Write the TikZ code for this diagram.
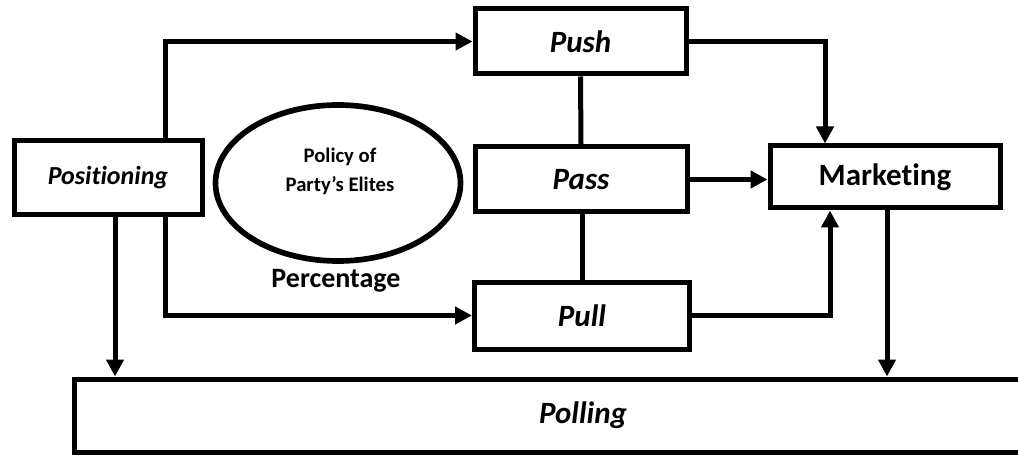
\documentclass[tikz,border=0pt]{standalone}
\usepackage{fontspec}
\setmainfont[Ligatures={NoCommon}]{Carlito}
\usetikzlibrary{arrows.meta,shapes.geometric,calc}
\begin{document}
\begin{tikzpicture}[x=0.75pt,y=-0.75pt,
  box/.style={draw, line width=3.75pt, rectangle, inner sep=0pt,
    font=\bfseries\itshape\fontsize{23.25}{28}\selectfont},
  arr/.style={line width=3.75pt, -{Triangle[length=12.75pt,width=12.75pt]}},
  ln/.style={line width=3.75pt}]
\useasboundingbox (0,0) rectangle (1018,456);
\clip (0,0) rectangle (1018,456);
% boxes
\node[box, minimum width=141pt, minimum height=55.5pt,
  font=\bfseries\itshape\fontsize{19.5}{24}\selectfont] (pos) at (108,178) {Positioning};
\node[box, minimum width=158.25pt, minimum height=48.75pt] (push) at (580.5,41.5) {Push};
\node[box, minimum width=159pt, minimum height=48.75pt] (pass) at (581,179.5) {Pass};
\node[box, minimum width=161.25pt, minimum height=50.25pt] (pull) at (582,315.5) {Pull};
\node[box, minimum width=172.5pt, minimum height=46.5pt,
  font=\bfseries\fontsize{23.25}{28}\selectfont] (mkt) at (885,177) {Marketing};
\node[box, minimum width=763.5pt, minimum height=54.75pt] (poll) at (583,415.5) {Polling};
% ellipse
\node[draw, ellipse, line width=4.25pt, minimum width=183.75pt, minimum height=117pt, inner sep=0pt] (elite) at (338,183) {};
\node[align=center, font=\bfseries\fontsize{15.5}{21.75}\selectfont, inner sep=0pt] (elitetxt) at (340,171.5) {Policy of\\Party’s Elites};
\node[anchor=base, font=\bfseries\fontsize{21}{25}\selectfont, inner sep=0pt] (perc) at (336,287) {Percentage};
% connectors
\draw[arr] ([xshift=42.75pt]pos.north) |- (push.west);
\draw[arr] ([xshift=42.75pt]pos.south) |- (pull.west);
\draw[arr] ([xshift=5.25pt]pos.south) -- ([xshift=5.25pt]pos.south |- poll.north);
\draw[ln] (push.south) -- (pass.north);
\draw[ln] ([xshift=0.75pt]pass.south) -- ([xshift=0.75pt]pass.south |- pull.north);
\draw[arr] (pass.east) -- (pass.east -| mkt.west);
\draw[arr] (push.east) -| ([xshift=-45pt]mkt.north);
\draw[arr] (pull.east) -| ([xshift=-41.25pt]mkt.south);
\draw[arr] ([xshift=1.5pt]mkt.south) -- ([xshift=1.5pt]mkt.south |- poll.north);
\end{tikzpicture}
\end{document}
